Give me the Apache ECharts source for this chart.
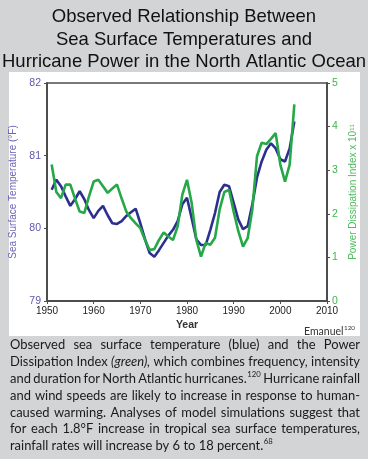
<!DOCTYPE html>
<html><head><meta charset="utf-8">
<script src="https://cdn.jsdelivr.net/npm/echarts@6/dist/echarts.min.js"></script>
<style>html,body{margin:0;padding:0;background:#d3d4d6}#c{width:368px;height:459px}</style>
</head><body><div id="c"></div>
<script>
// ---- data ----
const years = [1951,1952,1953,1954,1955,1956,1957,1958,1959,1960,
  1961,1962,1963,1964,1965,1966,1967,1968,1969,1970,
  1971,1972,1973,1974,1975,1976,1977,1978,1979,1980,
  1981,1982,1983,1984,1985,1986,1987,1988,1989,1990,
  1991,1992,1993,1994,1995,1996,1997,1998,1999,2000,
  2001,2002,2003];
const seaSurfaceTemp = [80.53,80.67,80.58,80.44,80.31,80.40,80.51,80.40,80.25,80.14,
  80.24,80.31,80.18,80.07,80.06,80.10,80.17,80.22,80.27,80.07,
  79.85,79.66,79.61,79.70,79.80,79.90,79.98,80.10,80.33,80.42,
  80.14,79.85,79.77,79.77,79.98,80.21,80.50,80.60,80.58,80.35,
  80.12,79.99,80.03,80.33,80.70,80.92,81.08,81.17,81.10,80.95,
  80.92,81.10,81.47];
const powerDissipation = [3.13,2.50,2.36,2.67,2.67,2.35,2.05,2.02,2.40,2.74,
  2.78,2.63,2.48,2.58,2.67,2.35,2.05,1.90,1.78,1.67,
  1.40,1.17,1.19,1.40,1.57,1.48,1.40,1.71,2.44,2.78,
  2.25,1.40,1.02,1.33,1.29,1.45,2.10,2.50,2.55,2.05,
  1.60,1.25,1.44,2.10,3.32,3.63,3.60,3.72,3.85,3.13,
  2.74,3.13,4.51];
const yearTicks = [1950,1960,1970,1980,1990,2000,2010];
const tempTicks = [79,80,81,82];
const pdiTicks = [0,1,2,3,4,5];
const titleLines = ["Observed Relationship Between","Sea Surface Temperatures and","Hurricane Power in the North Atlantic Ocean"];
const captionLines = [
  "Observed sea surface temperature (blue) and the Power",
  "Dissipation Index (green), which combines frequency, intensity",
  "and duration for North Atlantic hurricanes.^120 Hurricane rainfall",
  "and wind speeds are likely to increase in response to human-",
  "caused warming. Analyses of model simulations suggest that",
  "for each 1.8°F increase in tropical sea surface temperatures,",
  "rainfall rates will increase by 6 to 18 percent.^68"
];
const italicWords = ["(green),"];
const sourceText = "Emanuel^120";

// ---- drawing ----
const chart = echarts.init(document.getElementById('c'));
const CAP_FAMILY = 'Lato';
const mctx = document.createElement('canvas').getContext('2d');
function mw(t, size, style) { mctx.font = (style||'normal') + ' normal ' + size + 'px ' + CAP_FAMILY; return mctx.measureText(t).width; }
function wordParts(w) { const k = w.indexOf('^'); return k < 0 ? [w, ''] : [w.slice(0,k), w.slice(k+1)]; }
function wordWidth(w, s) {
  const p = wordParts(w); const st = italicWords.indexOf(w) >= 0 ? 'italic' : 'normal';
  return mw(p[0], s, st) + (p[1] ? mw(p[1], s*0.6) + 0.5 : 0);
}
const X0 = 10, X1 = 360, W = X1 - X0;
let maxRatio = 0;
for (let i = 0; i < captionLines.length - 1; i++) {
  const ws = captionLines[i].split(' ');
  let tot = 0; ws.forEach(w => tot += wordWidth(w, 14));
  tot += mw(' ', 14) * 0.7 * (ws.length - 1);
  maxRatio = Math.max(maxRatio, tot / W);
}
const capSize = Math.min(14.5, 14 / maxRatio);
const graphics = [];
graphics.push({type:'rect', z:-100, shape:{x:9,y:72,width:351,height:264}, style:{fill:'#ffffff'}});
titleLines.forEach((t, i) => graphics.push({type:'text', x:184, y:16.7 + i*22.75,
  style:{text:t, fontSize:18.5, fontFamily:'Liberation Sans', fill:'#111', textAlign:'center', align:'center', textVerticalAlign:'middle', verticalAlign:'middle'}}));
function pushWord(w, x, y, s, color) {
  const p = wordParts(w); const st = italicWords.indexOf(w) >= 0 ? 'italic' : 'normal';
  graphics.push({type:'text', x:x, y:y, style:{text:p[0], fontSize:s, fontStyle:st, fontFamily:CAP_FAMILY, fill:color, textAlign:'left', align:'left', textVerticalAlign:'middle', verticalAlign:'middle'}});
  if (p[1]) {
    graphics.push({type:'text', x:x + mw(p[0], s, st) + 0.5, y:y - s*0.32, style:{text:p[1], fontSize:s*0.6, fontFamily:CAP_FAMILY, fill:color, textAlign:'left', align:'left', textVerticalAlign:'middle', verticalAlign:'middle'}});
  }
}
captionLines.forEach((line, i) => {
  const ws = line.split(' ');
  const y = 345.3 + i*16.8;
  let tot = 0; ws.forEach(w => tot += wordWidth(w, capSize));
  const gap = (i < captionLines.length - 1) ? (W - tot) / (ws.length - 1) : mw(' ', capSize);
  let x = X0;
  ws.forEach(w => { pushWord(w, x, y, capSize, '#1a1a1a'); x += wordWidth(w, capSize) + gap; });
});
// source label, right aligned
(function(){ const s = 10.5; const wdt = wordWidth(sourceText, s); pushWord(sourceText, 355 - wdt, 331.5, s, '#333'); })();

const axisCol = '#4d4d4d';
const blueLab = '#5e58ad', greenLab = '#3fb44f';
chart.setOption({
  backgroundColor: '#d3d4d6',
  animation: false,
  graphic: graphics,
  grid: {left:47, right:41, top:83, bottom:158, show:true, borderColor:axisCol, borderWidth:1.5, backgroundColor:'transparent'},
  xAxis: {type:'value', min:yearTicks[0], max:yearTicks[yearTicks.length-1], interval:10,
    axisLine:{show:true, lineStyle:{color:axisCol, width:2}},
    axisTick:{show:true, length:3, lineStyle:{color:axisCol}},
    axisLabel:{color:'#222', fontSize:10, margin:5, fontFamily:'Liberation Sans', formatter: v => String(v)},
    splitLine:{show:false},
    name:'Year', nameLocation:'middle', nameGap:19,
    nameTextStyle:{color:'#333', fontSize:10.5, fontWeight:'bold', fontFamily:'Liberation Sans'}},
  yAxis: [
    {type:'value', min:tempTicks[0], max:tempTicks[tempTicks.length-1], interval:1, position:'left',
     axisLine:{show:true, lineStyle:{color:axisCol, width:2}},
     axisTick:{show:true, length:3, lineStyle:{color:axisCol}},
     axisLabel:{color:blueLab, fontSize:10.5, margin:6, fontFamily:'Liberation Sans'},
     splitLine:{show:false},
     name:'Sea Surface Temperature (°F)', nameLocation:'middle', nameRotate:90, nameGap:21,
     nameTextStyle:{color:'#6a64b8', fontSize:10, fontFamily:'Liberation Sans'}},
    {type:'value', min:pdiTicks[0], max:pdiTicks[pdiTicks.length-1], interval:1, position:'right',
     axisLine:{show:true, lineStyle:{color:axisCol, width:2}},
     axisTick:{show:true, length:3, lineStyle:{color:axisCol}},
     axisLabel:{color:greenLab, fontSize:10.5, margin:5, fontFamily:'Liberation Sans'},
     splitLine:{show:false},
     name:'Power Dissipation Index x 10¹¹', nameLocation:'middle', nameRotate:90, nameGap:17,
     nameTextStyle:{color:'#4cba5b', fontSize:10, fontFamily:'Liberation Sans'}}
  ],
  series: [
    {type:'line', name:'SST', yAxisIndex:0, showSymbol:false, z:3,
     data: years.map((y,i)=>[y, seaSurfaceTemp[i]]),
     lineStyle:{color:'#2d2f8e', width:2.6}},
    {type:'line', name:'PDI', yAxisIndex:1, showSymbol:false, z:4,
     data: years.map((y,i)=>[y, powerDissipation[i]]),
     lineStyle:{color:'#25a848', width:2.6}}
  ]
});
</script></body></html>
